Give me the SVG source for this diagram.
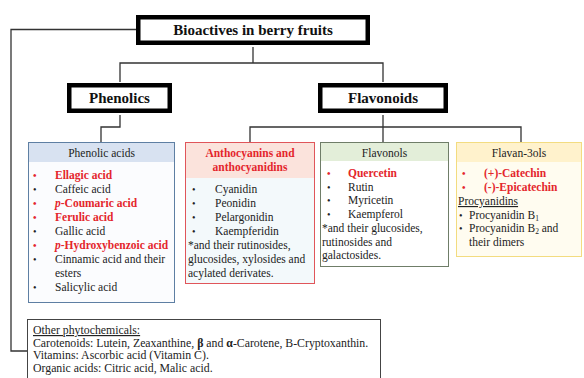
<svg xmlns="http://www.w3.org/2000/svg" width="584" height="378" viewBox="0 0 584 378" font-family="'Liberation Serif', 'Times New Roman', Times, 'DejaVu Serif', serif">
<style>
text{font-family:'Liberation Serif','Times New Roman',Times,'DejaVu Serif',serif;font-size:11.5px;fill:#222}
.t{font-weight:bold;font-size:15px;fill:#111}
.h{text-anchor:middle}
.r{fill:#e4262c;font-weight:bold}
.b{font-size:10px}
.o{font-size:11.8px}
.c{fill:none;stroke:#333;stroke-width:1.3}
.k{fill:#fff;stroke:#000;stroke-width:4.5}
</style>
<rect width="584" height="378" fill="#fff"/>
<g id="connectors" class="c">
<polyline points="138,29.5 11,29.5 11,351 27,351"/>
<line x1="253" y1="47" x2="253" y2="63"/>
<polyline points="120,82 120,63 383,63 383,82"/>
<polyline points="120,115 120,127 101,127 101,142"/>
<line x1="383" y1="115" x2="383" y2="142"/>
<polyline points="250,142 250,127 521,127 521,142"/>
</g>
<g id="bioactives">
<rect class="k" x="138.25" y="17.25" width="229.5" height="25.5"/>
<text class="t h" x="253" y="35">Bioactives in berry fruits</text>
</g>
<g id="phenolics">
<rect class="k" x="69.25" y="85.25" width="100.5" height="25.5"/>
<text class="t h" x="119.5" y="103">Phenolics</text>
</g>
<g id="flavonoids">
<rect class="k" x="320.25" y="85.25" width="125.5" height="25.5"/>
<text class="t h" x="383" y="103">Flavonoids</text>
</g>
<g id="phenolic-acids">
<rect x="28.5" y="142.5" width="146" height="160" fill="#fbfcfe" stroke="#5e7fa3"/>
<rect x="29" y="143" width="145" height="19" fill="#d8e2f1"/>
<text class="h" x="101.5" y="157">Phenolic acids</text>
<g>
<text x="33" y="179" class="r b">•</text><text x="55" y="179" class="r">Ellagic acid</text>
<text x="33" y="193" class="b">•</text><text x="55" y="193">Caffeic acid</text>
<text x="33" y="207" class="r b">•</text><text x="55" y="207" class="r"><tspan font-style="italic">p</tspan>-Coumaric acid</text>
<text x="33" y="221" class="r b">•</text><text x="55" y="221" class="r">Ferulic acid</text>
<text x="33" y="235" class="b">•</text><text x="55" y="235">Gallic acid</text>
<text x="33" y="249" class="r b">•</text><text x="55" y="249" class="r"><tspan font-style="italic">p</tspan>-Hydroxybenzoic acid</text>
<text x="33" y="263" class="b">•</text><text x="55" y="263">Cinnamic acid and their</text>
<text x="55" y="277">esters</text>
<text x="33" y="291" class="b">•</text><text x="55" y="291">Salicylic acid</text>
</g>
</g>
<g id="anthocyanins">
<rect x="185.5" y="142.5" width="129" height="141" fill="#f3f9fb" stroke="#e0555a"/>
<rect x="186" y="143" width="128" height="35" fill="#fbe3dc"/>
<text class="h r" x="250" y="157">Anthocyanins and</text>
<text class="h r" x="250" y="171">anthocyanidins</text>
<text x="192" y="193" class="b">•</text><text x="215" y="193">Cyanidin</text>
<text x="192" y="207" class="b">•</text><text x="215" y="207">Peonidin</text>
<text x="192" y="221" class="b">•</text><text x="215" y="221">Pelargonidin</text>
<text x="192" y="235" class="b">•</text><text x="215" y="235">Kaempferidin</text>
<text x="188" y="249">*and their rutinosides,</text>
<text x="188" y="263">glucosides, xylosides and</text>
<text x="188" y="277">acylated derivates.</text>
</g>
<g id="flavonols">
<rect x="320.5" y="142.5" width="128" height="124" fill="#fff" stroke="#6f7d68"/>
<rect x="321" y="143" width="127" height="18" fill="#e3eed9"/>
<text class="h" x="384.5" y="157">Flavonols</text>
<text x="327" y="177" class="r b">•</text><text x="348" y="177" class="r">Quercetin</text>
<text x="327" y="191" class="b">•</text><text x="348" y="191">Rutin</text>
<text x="327" y="204" class="b">•</text><text x="348" y="204">Myricetin</text>
<text x="327" y="218" class="b">•</text><text x="348" y="218">Kaempferol</text>
<text x="322" y="232">*and their glucosides,</text>
<text x="322" y="246">rutinosides and</text>
<text x="322" y="259">galactosides.</text>
</g>
<g id="flavan-3ols">
<rect x="456.5" y="142.5" width="125" height="114" fill="#fffcf0" stroke="#f3dc80"/>
<rect x="457" y="143" width="124" height="19" fill="#fff2cc"/>
<text class="h" x="519" y="157">Flavan-3ols</text>
<text x="462" y="177" class="r b">•</text><text x="484" y="177" class="r">(+)-Catechin</text>
<text x="462" y="191" class="r b">•</text><text x="484" y="191" class="r">(-)-Epicatechin</text>
<text x="458" y="205" text-decoration="underline">Procyanidins</text>
<text x="459" y="219" class="b">•</text><text x="469" y="219">Procyanidin B<tspan font-size="7.5" dy="2">1</tspan></text>
<text x="459" y="232" class="b">•</text><text x="469" y="232">Procyanidin B<tspan font-size="7.5" dy="2">2</tspan><tspan dy="-2"> and</tspan></text>
<text x="469" y="246">their dimers</text>
</g>
<g id="other-phytochemicals">
<rect x="27.5" y="319.5" width="353" height="62" fill="#fff" stroke="#444"/>
<text class="o" x="33" y="334" text-decoration="underline">Other phytochemicals:</text>
<text class="o" x="33" y="346.5">Carotenoids: Lutein, Zeaxanthine, <tspan font-weight="bold">β</tspan> and <tspan font-weight="bold">α</tspan>-Carotene, B-Cryptoxanthin.</text>
<text class="o" x="33" y="359">Vitamins: Ascorbic acid (Vitamin C).</text>
<text class="o" x="33" y="371.5">Organic acids: Citric acid, Malic acid.</text>
</g>
</svg>
